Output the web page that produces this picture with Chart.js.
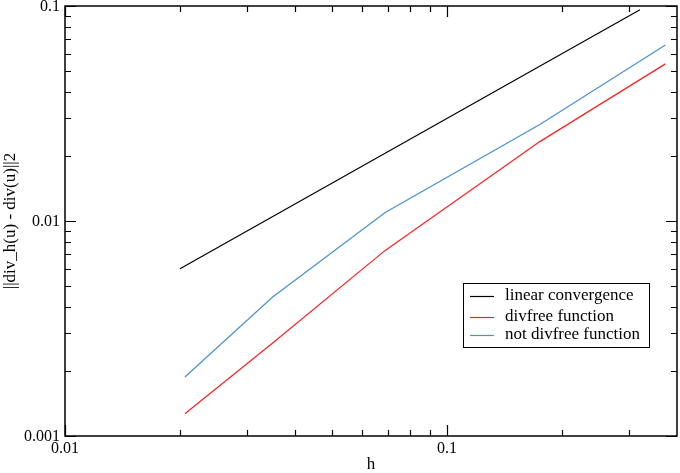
<!DOCTYPE html>
<html>
<head>
<meta charset="utf-8">
<script src="https://cdn.jsdelivr.net/npm/chart.js@4"></script>
<style>
html,body{margin:0;padding:0;background:#fff;}
#wrap{width:680px;height:473px;position:relative;}
</style>
</head>
<body>
<div id="wrap"><canvas id="c" width="680" height="473"></canvas></div>
<script>
// ---- data ----
const hLinear = [0.02, 0.04, 0.08, 0.16, 0.32];
const linearConv = [0.006, 0.012, 0.024, 0.048, 0.096];
const hDiv = [0.0206, 0.0349, 0.0689, 0.175, 0.373];
const divfree = [0.00127, 0.0027, 0.0073, 0.0234, 0.0538];
const notDivfree = [0.00188, 0.00442, 0.01095, 0.0281, 0.0659];
const seriesNames = ['linear convergence', 'divfree function', 'not divfree function'];
const xMajor = [0.01, 0.1];
const xMinor = [0.02,0.03,0.04,0.05,0.06,0.07,0.08,0.09,0.2,0.3];
const xLabels = ['0.01', '0.1'];
const yMajor = [0.001, 0.01, 0.1];
const yMinor = [0.002,0.003,0.004,0.005,0.006,0.007,0.008,0.009,0.02,0.03,0.04,0.05,0.06,0.07,0.08,0.09];
const yLabels = ['0.001', '0.01', '0.1'];
const xTitle = 'h';
const yTitle = '||div_h(u) - div(u)||2';

const FONT = '"Liberation Serif", "DejaVu Serif", serif';
const pts = (xs, ys) => xs.map((x, i) => ({x, y: ys[i]}));

const axesPlugin = {
  id: 'axesPlugin',
  afterDraw(chart) {
    const ctx = chart.ctx;
    const a = chart.chartArea;
    const xs = chart.scales.x, ys = chart.scales.y;
    ctx.save();
    ctx.strokeStyle = '#000';
    ctx.lineWidth = 1.5;
    ctx.strokeRect(a.left, a.top, a.right - a.left, a.bottom - a.top);
    ctx.lineWidth = 1.2;
    const tickX = (v, len) => {
      const p = Math.round(xs.getPixelForValue(v)) + 0.5;
      ctx.beginPath();
      ctx.moveTo(p, a.bottom); ctx.lineTo(p, a.bottom - len);
      ctx.moveTo(p, a.top); ctx.lineTo(p, a.top + len);
      ctx.stroke();
    };
    const tickY = (v, len) => {
      const p = Math.round(ys.getPixelForValue(v)) + 0.5;
      ctx.beginPath();
      ctx.moveTo(a.left, p); ctx.lineTo(a.left + len, p);
      ctx.moveTo(a.right, p); ctx.lineTo(a.right - len, p);
      ctx.stroke();
    };
    xMajor.forEach(v => tickX(v, 11));
    xMinor.forEach(v => tickX(v, 6));
    yMajor.forEach(v => tickY(v, 11));
    yMinor.forEach(v => tickY(v, 6));
    ctx.fillStyle = '#000';
    ctx.font = '16px ' + FONT;
    ctx.textAlign = 'center'; ctx.textBaseline = 'top';
    xMajor.forEach((v, i) => ctx.fillText(xLabels[i], xs.getPixelForValue(v), a.bottom + 5));
    ctx.textAlign = 'right'; ctx.textBaseline = 'middle';
    yMajor.forEach((v, i) => ctx.fillText(yLabels[i], a.left - 5, ys.getPixelForValue(v) + 1));
    // titles
    ctx.font = '17px ' + FONT;
    ctx.textAlign = 'center'; ctx.textBaseline = 'middle';
    ctx.fillText(xTitle, (a.left + a.right) / 2, 465);
    ctx.save();
    ctx.translate(11, (a.top + a.bottom) / 2);
    ctx.rotate(-Math.PI / 2);
    ctx.fillText(yTitle, 0, 0);
    ctx.restore();
    // legend
    const lx = 463, ly = 283, lw = 186, lh = 64;
    ctx.fillStyle = '#fff';
    ctx.fillRect(lx, ly, lw, lh);
    ctx.lineWidth = 1;
    ctx.strokeStyle = '#000';
    ctx.strokeRect(lx + 0.5, ly + 0.5, lw, lh);
    const rows = [296, 317, 335];
    chart.data.datasets.forEach((ds, i) => {
      ctx.strokeStyle = ds.borderColor;
      ctx.lineWidth = 1.2;
      ctx.beginPath();
      ctx.moveTo(470, rows[i] + 0.5); ctx.lineTo(494, rows[i] + 0.5);
      ctx.stroke();
      ctx.fillStyle = '#000';
      ctx.textAlign = 'left'; ctx.textBaseline = 'middle';
      ctx.fillText(ds.label, 505, rows[i]);
    });
    ctx.restore();
  }
};

new Chart(document.getElementById('c'), {
  type: 'scatter',
  data: {
    datasets: [
      {label: seriesNames[0], data: pts(hLinear, linearConv), borderColor: '#000000'},
      {label: seriesNames[1], data: pts(hDiv, divfree), borderColor: '#ff2020'},
      {label: seriesNames[2], data: pts(hDiv, notDivfree), borderColor: '#4a90d0'}
    ].map(d => Object.assign(d, {showLine: true, pointRadius: 0, borderWidth: 1.2, fill: false}))
  },
  options: {
    responsive: false,
    animation: false,
    events: [],
    layout: {padding: {left: 65, right: 3, top: 6, bottom: 37}},
    plugins: {legend: {display: false}, tooltip: {enabled: false}},
    scales: {
      x: {type: 'logarithmic', min: 0.01, max: 0.4, display: false},
      y: {type: 'logarithmic', min: 0.001, max: 0.1, display: false}
    }
  },
  plugins: [axesPlugin]
});
</script>
</body>
</html>
